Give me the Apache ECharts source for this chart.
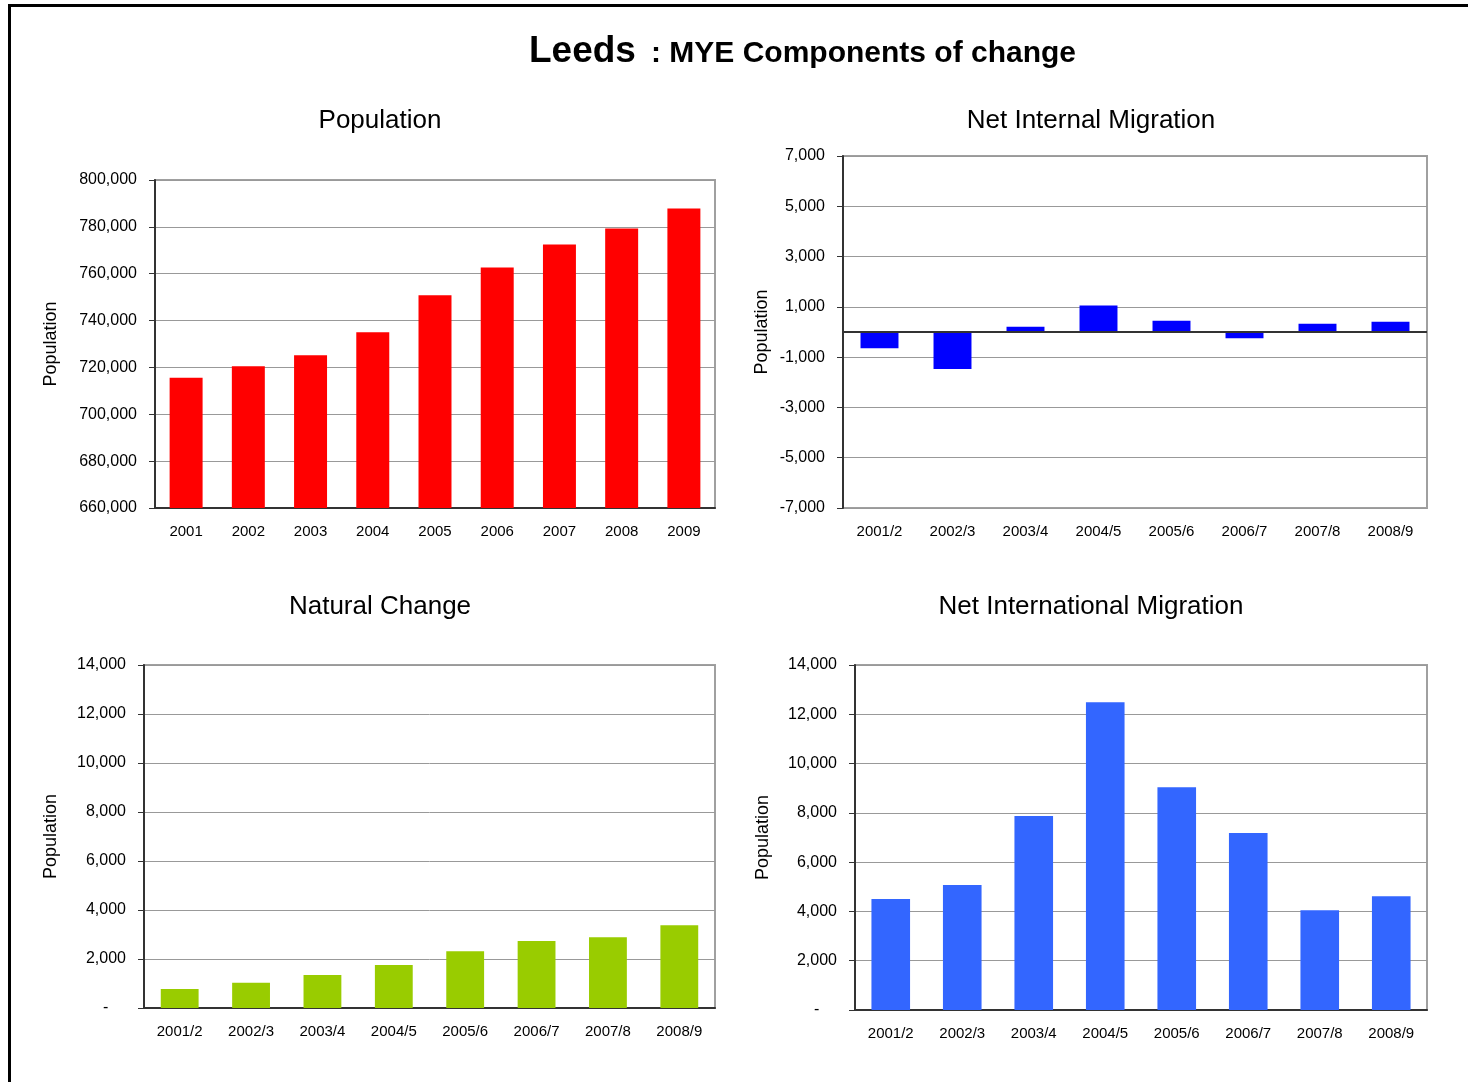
<!DOCTYPE html>
<html>
<head>
<meta charset="utf-8">
<script src="https://cdn.jsdelivr.net/npm/echarts@6/dist/echarts.min.js"></script>
<style>
html,body{margin:0;padding:0;background:#fff;}
#c{width:1468px;height:1082px;}
</style>
</head>
<body>
<div id="c"></div>
<script>
// ---- data ----
const years = ['2001','2002','2003','2004','2005','2006','2007','2008','2009'];
const population = [715600, 720500, 725200, 735000, 750800, 762700, 772500, 779300, 787800];
const periods = ['2001/2','2002/3','2003/4','2004/5','2005/6','2006/7','2007/8','2008/9'];
const netInternal = [-650, -1470, 210, 1050, 450, -250, 330, 410];
const naturalChange = [780, 1030, 1350, 1760, 2320, 2730, 2890, 3380];
const netInternational = [4500, 5070, 7870, 12490, 9040, 7180, 4050, 4620];

const popAxis = {min: 660000, max: 800000, interval: 20000};
const internalAxis = {min: -7000, max: 7000, interval: 2000};
const naturalAxis = {min: 0, max: 14000, interval: 2000};
const internationalAxis = {min: 0, max: 14000, interval: 2000};

const mainTitle = 'Leeds';
const subTitle = ': MYE Components of change';
const chartTitles = ['Population', 'Net Internal Migration', 'Natural Change', 'Net International Migration'];
const yName = 'Population';

// ---- rendering ----
const FONT = '"Liberation Sans", Arial, Helvetica, sans-serif';
const fmt = v => v === 0 ? '-    ' : v.toLocaleString('en-US');

const grids = [
  {left: 155, top: 180, width: 560, height: 328},
  {left: 843, top: 156, width: 584, height: 352},
  {left: 144, top: 665, width: 571, height: 343},
  {left: 855, top: 665, width: 572, height: 345}
].map(g => Object.assign({show: true, borderColor: '#a0a0a0', borderWidth: 2, backgroundColor: '#fff'}, g));

function xAx(i, cats, showLine) {
  return {
    type: 'category', gridIndex: i, data: cats,
    axisLine: {show: showLine, onZero: false, lineStyle: {color: '#333', width: 2}},
    axisTick: {show: false},
    axisLabel: {color: '#000', fontFamily: FONT, fontSize: 15, margin: 16}
  };
}
function yAx(i, rng, gap) {
  return Object.assign({
    type: 'value', gridIndex: i,
    name: yName, nameLocation: 'middle', nameGap: gap, nameRotate: 90,
    nameTextStyle: {color: '#000', fontFamily: FONT, fontSize: 18},
    axisLine: {show: true, lineStyle: {color: '#333', width: 2}},
    axisTick: {show: true, length: 6, lineStyle: {color: '#333', width: 1}},
    axisLabel: {color: '#000', fontFamily: FONT, fontSize: 16, margin: 18, padding: [4, 0, 0, 0], formatter: fmt},
    splitLine: {show: true, lineStyle: {color: '#999', width: 1}}
  }, rng);
}

const titlePos = [[380, 121], [1091, 121], [380, 607], [1091, 607]];

const option = {
  animation: false,
  backgroundColor: '#fff',
  grid: grids,
  xAxis: [xAx(0, years, true), xAx(1, periods, false), xAx(2, periods, true), xAx(3, periods, true)],
  yAxis: [yAx(0, popAxis, 95), yAx(1, internalAxis, 72), yAx(2, naturalAxis, 84), yAx(3, internationalAxis, 83)],
  series: [
    {type: 'bar', xAxisIndex: 0, yAxisIndex: 0, data: population, barWidth: '53%', itemStyle: {color: '#ff0000'}},
    {type: 'bar', xAxisIndex: 1, yAxisIndex: 1, data: netInternal, barWidth: '52%', itemStyle: {color: '#0000ff'},
      markLine: {silent: true, symbol: ['none', 'none'], label: {show: false},
        lineStyle: {color: '#333', width: 2, type: 'solid'}, data: [{yAxis: 0}]}},
    {type: 'bar', xAxisIndex: 2, yAxisIndex: 2, data: naturalChange, barWidth: '53%', itemStyle: {color: '#99cc00'}},
    {type: 'bar', xAxisIndex: 3, yAxisIndex: 3, data: netInternational, barWidth: '54%', itemStyle: {color: '#3366ff'}}
  ],
  graphic: [
    {type: 'rect', shape: {x: 8, y: 4, width: 1460, height: 3}, style: {fill: '#000'}, z: 100},
    {type: 'rect', shape: {x: 8, y: 4, width: 3, height: 1078}, style: {fill: '#000'}, z: 100},
    {type: 'text', x: 529, y: 52, style: {text: mainTitle, font: 'bold 37px ' + FONT, fill: '#000', textAlign: 'left', textVerticalAlign: 'middle'}},
    {type: 'text', x: 651, y: 54, style: {text: subTitle, font: 'bold 30px ' + FONT, fill: '#000', textAlign: 'left', textVerticalAlign: 'middle'}}
  ].concat(chartTitles.map((t, i) => ({
    type: 'text', x: titlePos[i][0], y: titlePos[i][1],
    style: {text: t, font: '26px ' + FONT, fill: '#000', textAlign: 'center', textVerticalAlign: 'middle'}
  })))
};

const chart = echarts.init(document.getElementById('c'), null, {renderer: 'canvas'});
chart.setOption(option);
</script>
</body>
</html>
